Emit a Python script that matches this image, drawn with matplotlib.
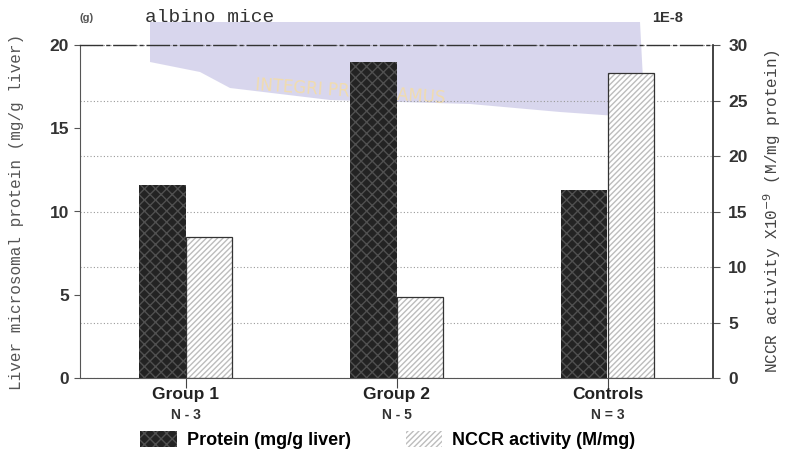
import numpy as np
import matplotlib.pyplot as plt
from matplotlib.patches import Patch, Polygon

groups = ["Group 1", "Group 2", "Controls"]
n_labels = ["N - 3", "N - 5", "N = 3"]
protein = [11.6, 19.0, 11.3]      # mg/g liver (left axis)
nccr = [12.7, 7.3, 27.5]          # x10^-9 M/mg protein (right axis)

W, H = 789, 469
fig = plt.figure(figsize=(W / 100, H / 100), dpi=100)


def px(x, y):
    # pixel position (from top-left) -> figure fraction
    return x / W, 1 - y / H


# faint watermark banner behind the chart (scan artefact)
band = [(150, 22), (640, 22), (645, 118), (560, 112), (470, 104),
        (330, 100), (230, 88), (200, 72), (150, 62)]
fig.add_artist(Polygon([px(*p) for p in band], closed=True,
                       transform=fig.transFigure, facecolor="#bfbce2",
                       edgecolor="none", alpha=0.6, zorder=-5))
fig.text(*px(350, 92), "INTEGRI PROCEDAMUS", color="#f1dcae", fontsize=12,
         ha="center", va="center", rotation=-4, family="DejaVu Sans",
         zorder=-4)

l, b = px(80, 378)
r, t = px(713, 45)
ax = fig.add_axes([l, b, r - l, t - b])
ax2 = ax.twinx()

x = np.arange(len(groups))
w = 0.22

# right axis: gridlines + hatched NCCR bars
ax2.set_axisbelow(True)
ax2.set_ylim(0, 30)
ax2.set_yticks(np.arange(0, 31, 5))
ax2.yaxis.grid(True, linestyle=(0, (1, 2)), color="#9a9a9a", linewidth=0.8)
ax2.bar(x + w / 2, nccr, w, color="white", hatch="//////",
        edgecolor="#bdbdbd", linewidth=0)
ax2.bar(x + w / 2, nccr, w, fill=False, edgecolor="#333333", linewidth=0.9)

# left axis on top: dark protein bars
ax.set_zorder(ax2.get_zorder() + 1)
ax.patch.set_visible(False)
ax.bar(x - w / 2, protein, w, color="#232323", hatch="xxx",
       edgecolor="#505050", linewidth=0)
ax.set_ylim(0, 20)
ax.set_yticks([0, 5, 10, 15, 20])
ax.set_xlim(-0.5, 2.5)
ax.set_xticks(x)
ax.set_xticklabels([])
ax.tick_params(axis="x", length=7, width=0.8, color="#444444")
ax.tick_params(axis="y", length=4, width=0.8, color="#555555", pad=4)
ax2.tick_params(axis="y", length=5, width=0.8, color="#555555", pad=6)

for a in (ax, ax2):
    for lab in a.get_yticklabels():
        lab.set_fontweight("bold")
        lab.set_fontsize(12.5)
        lab.set_family("Liberation Sans")
        lab.set_color("#333333")

for s in ("left", "bottom"):
    ax.spines[s].set_color("#555555")
    ax.spines[s].set_linewidth(0.8)
ax.spines["top"].set_linestyle((0, (16, 3, 2, 3)))
ax.spines["top"].set_linewidth(1.0)
ax.spines["top"].set_color("#333333")
ax.spines["right"].set_visible(False)
for s in ("left", "bottom", "top"):
    ax2.spines[s].set_visible(False)
ax2.spines["right"].set_linewidth(1.2)
ax2.spines["right"].set_color("#222222")

# category and N labels under the bars
tr = ax.get_xaxis_transform()
for i in range(len(groups)):
    ax.text(x[i], -0.05, groups[i], transform=tr, ha="center", va="center",
            fontsize=12.5, fontweight="bold", family="Liberation Sans",
            color="#222222")
    ax.text(x[i], -0.11, n_labels[i], transform=tr, ha="center", va="center",
            fontsize=10, fontweight="bold", family="Liberation Sans",
            color="#333333")

ax.set_ylabel("Liver microsomal protein (mg/g liver)", family="Liberation Mono",
              fontsize=11.5, color="#555555", labelpad=18)
ax2.set_ylabel("NCCR activity X10$^{-9}$ (M/mg protein)", family="Liberation Mono",
               fontsize=11.5, color="#444444", labelpad=10)

fig.text(*px(80, 18), "(g)", fontsize=8, fontweight="bold", color="#555555",
         family="Liberation Sans", va="center")
fig.text(*px(145, 17), "albino mice", fontsize=14, family="Liberation Mono",
         color="#333333", va="center")
fig.text(*px(668, 18), "1E-8", fontsize=10.5, fontweight="bold", color="#333333",
         family="Liberation Sans", va="center", ha="center")

handles = [Patch(facecolor="#232323", hatch="xxx", edgecolor="#505050", linewidth=0),
           Patch(facecolor="white", hatch="//////", edgecolor="#bdbdbd", linewidth=0)]
fig.legend(handles, ["Protein (mg/g liver)", "NCCR activity (M/mg)"],
           loc="center", bbox_to_anchor=px(388, 440), ncol=2, frameon=False,
           columnspacing=3.0, handlelength=2.0, handleheight=1.0,
           handletextpad=0.6,
           prop={"family": "Liberation Sans", "size": 13, "weight": "bold"})

fig.savefig("out.png", dpi=100)
